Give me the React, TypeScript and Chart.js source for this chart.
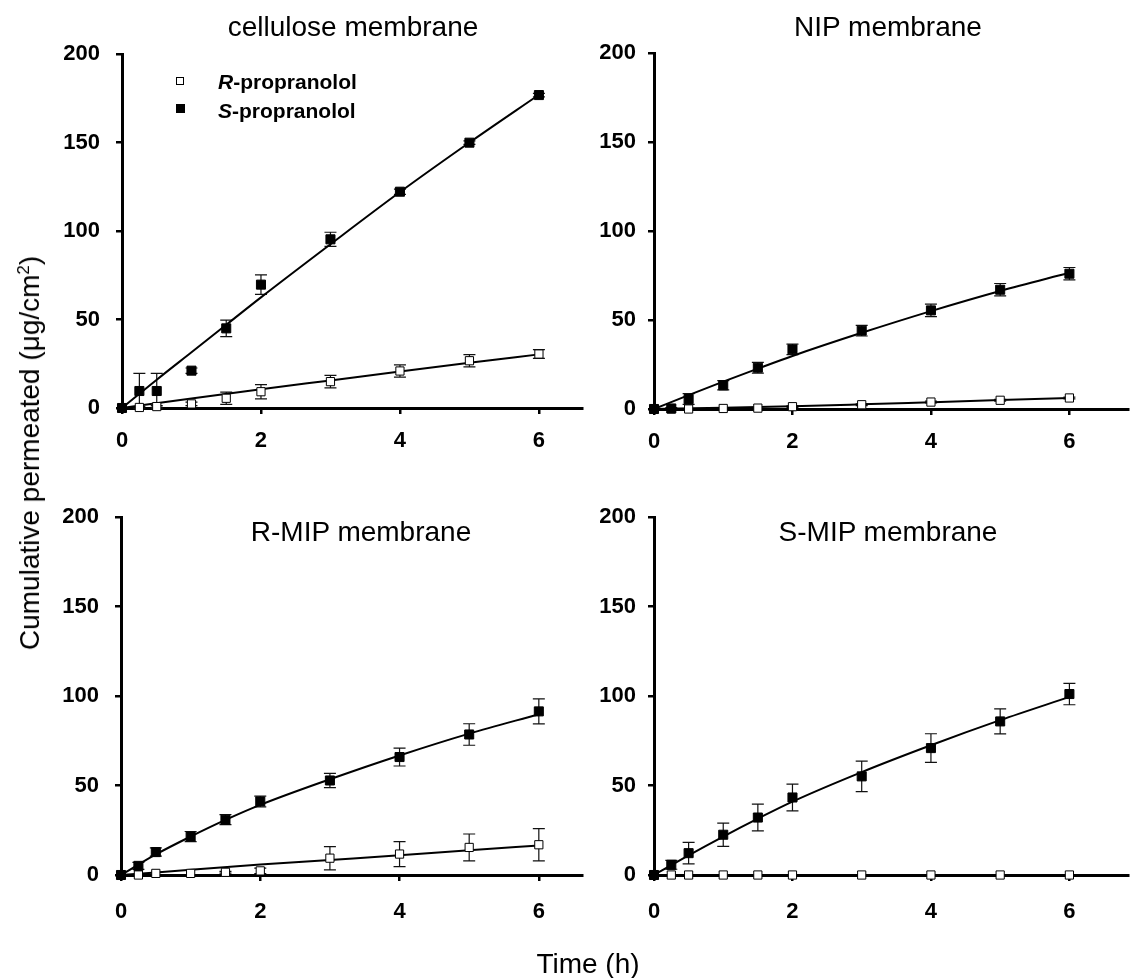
import React, { useEffect, useRef } from 'react';
import { Chart, registerables } from 'chart.js';

Chart.register(...registerables);

const FONT = '"Liberation Sans", Arial, Helvetica, sans-serif';

// ---- shared axes ----
const timePoints = [0, 0.25, 0.5, 1, 1.5, 2, 3, 4, 5, 6];
const xTickValues = [0, 2, 4, 6];
const yTickValues = [0, 50, 100, 150, 200];
const fitTimeS = [0, 0.5, 1, 1.5, 2, 3, 4, 5, 6];
const fitTimeR = [0, 1, 2, 3, 4, 5, 6];

// ---- cellulose membrane ----
const celluloseS = [0, 9.6, 9.6, 21.1, 45, 69.7, 95.3, 122.2, 149.9, 176.8];
const celluloseSErr = [0, 10, 10, 1.5, 4.7, 5.5, 4, 1.5, 1, 1];
const celluloseR = [0, 0.3, 0.8, 2.3, 5.5, 9.2, 14.9, 20.9, 26.7, 30.5];
const celluloseRErr = [0, 0.5, 0.5, 1, 3.5, 4, 3.5, 3.5, 3.5, 2.5];
const celluloseFitS = [0, 16, 31.5, 47, 62.5, 92.5, 122, 150, 177];
const celluloseFitR = [0, 5.4, 10.6, 15.6, 20.6, 25.5, 30.3];

// ---- NIP membrane ----
const nipS = [0, 0.3, 5.6, 13.3, 23.2, 33.5, 44, 55.4, 67, 76];
const nipSErr = [0, 0.5, 3, 2.6, 3, 3, 3, 3.5, 3.5, 3.5];
const nipR = [0, 0, 0, 0.3, 0.5, 1.3, 2.4, 3.9, 4.9, 6.2];
const nipRErr = [0, 0, 0, 0, 0, 0.5, 0.5, 0.5, 0.5, 0.5];
const nipFitS = [0, 7.8, 15.4, 22.7, 29.8, 42.8, 55, 66.3, 76.5];
const nipFitR = [0, 0.7, 1.5, 2.6, 3.8, 5, 6.2];

// ---- R-MIP membrane ----
const rmipS = [0, 5.1, 12.8, 21.5, 30.9, 41.1, 52.8, 65.9, 78.5, 91.4];
const rmipSErr = [0, 2, 2.3, 2.8, 2.8, 3, 4, 5, 6, 7];
const rmipR = [0, 0, 0.9, 0.9, 1.5, 2.3, 9.4, 11.7, 15.4, 16.9];
const rmipRErr = [0, 0, 0, 0, 0.5, 1.5, 6.5, 7, 7.5, 9];
const rmipFitS = [0, 11.5, 21.5, 30.8, 39.2, 53.5, 66.8, 79, 89.8];
const rmipFitR = [0, 2.9, 5.8, 8.4, 11, 13.8, 16.5];

// ---- S-MIP membrane ----
const smipS = [0, 5.7, 12.2, 22.5, 32.1, 43.3, 55.1, 70.9, 85.8, 101.1];
const smipSErr = [0, 2.5, 6, 6.5, 7.5, 7.5, 8.5, 8, 7, 6];
const smipR = [0, 0, 0, 0, 0, 0, 0, 0, 0, 0];
const smipRErr = [0, 0, 0, 0, 0, 0, 0, 0, 0, 0];
const smipFitS = [0, 11, 21.5, 31.5, 41, 57.5, 72.5, 86.5, 99.5];
const smipFitR = [0, 0, 0, 0, 0, 0, 0];

const panelTitles = ['cellulose membrane', 'NIP membrane', 'R-MIP membrane', 'S-MIP membrane'];

type Spec = {
  s: number[]; sErr: number[]; r: number[]; rErr: number[];
  fitS: number[]; fitR: number[];
  canvas: { x: number; y: number; w: number; h: number };
  yW: number; xH: number; padTop: number; padRight: number; xMax: number;
  xPad: number; yPad: number;
};

const panels: Spec[] = [
  { s: celluloseS, sErr: celluloseSErr, r: celluloseR, rErr: celluloseRErr, fitS: celluloseFitS, fitR: celluloseFitR,
    canvas: { x: 0, y: 0, w: 600, h: 465 }, yW: 122, xH: 57, padTop: 54, padRight: 18, xMax: 6.62, xPad: 14, yPad: 16 },
  { s: nipS, sErr: nipSErr, r: nipR, rErr: nipRErr, fitS: nipFitS, fitR: nipFitR,
    canvas: { x: 580, y: 0, w: 556, h: 465 }, yW: 74, xH: 56, padTop: 53, padRight: 0, xMax: 6.855, xPad: 14, yPad: 12 },
  { s: rmipS, sErr: rmipSErr, r: rmipR, rErr: rmipRErr, fitS: rmipFitS, fitR: rmipFitR,
    canvas: { x: 0, y: 465, w: 600, h: 513 }, yW: 121, xH: 103, padTop: 52, padRight: 18, xMax: 6.62, xPad: 18, yPad: 16 },
  { s: smipS, sErr: smipSErr, r: smipR, rErr: smipRErr, fitS: smipFitS, fitR: smipFitR,
    canvas: { x: 580, y: 465, w: 556, h: 513 }, yW: 74, xH: 103, padTop: 52, padRight: 0, xMax: 6.855, xPad: 18, yPad: 12 },
];

const toPts = (xs: number[], ys: number[]) => xs.map((x, i) => ({ x, y: ys[i] }));

const errorBarPlugin = {
  id: 'errorBars',
  beforeDatasetsDraw(chart: any) {
    const ctx = chart.ctx;
    const xs = chart.scales.x;
    const ys = chart.scales.y;
    chart.data.datasets.forEach((ds: any) => {
      if (!ds.errors) return;
      ctx.save();
      ctx.strokeStyle = '#111';
      ctx.lineWidth = 1.2;
      ds.data.forEach((pt: any, i: number) => {
        const e = ds.errors[i];
        if (!e) return;
        const px = xs.getPixelForValue(pt.x);
        const top = ys.getPixelForValue(pt.y + e);
        const bot = ys.getPixelForValue(pt.y - e);
        ctx.beginPath();
        ctx.moveTo(px, top);
        ctx.lineTo(px, bot);
        ctx.moveTo(px - 6, top);
        ctx.lineTo(px + 6, top);
        ctx.moveTo(px - 6, bot);
        ctx.lineTo(px + 6, bot);
        ctx.stroke();
      });
      ctx.restore();
    });
  },
};

function makeConfig(spec: Spec): any {
  const tickFont = { family: FONT, size: 22, weight: 'bold' as const };
  return {
    type: 'line',
    data: {
      datasets: [
        { label: 'S fit', data: toPts(fitTimeS, spec.fitS), borderColor: '#000', borderWidth: 2, pointRadius: 0,
          fill: false, cubicInterpolationMode: 'monotone', order: 2, clip: false },
        { label: 'R fit', data: toPts(fitTimeR, spec.fitR), borderColor: '#000', borderWidth: 2, pointRadius: 0,
          fill: false, cubicInterpolationMode: 'monotone', order: 2, clip: false },
        { label: 'S-propranolol', data: toPts(timePoints, spec.s), errors: spec.sErr, showLine: false,
          pointStyle: 'rect', pointRadius: 6.4, pointBackgroundColor: '#000', pointBorderColor: '#000',
          pointBorderWidth: 1, order: 0, clip: false },
        { label: 'R-propranolol', data: toPts(timePoints, spec.r), errors: spec.rErr, showLine: false,
          pointStyle: 'rect', pointRadius: 5.8, pointBackgroundColor: '#fff', pointBorderColor: '#000',
          pointBorderWidth: 1, order: 0, clip: false },
      ],
    },
    options: {
      animation: false,
      responsive: false,
      devicePixelRatio: 1,
      events: [],
      layout: { padding: { left: 0, top: spec.padTop, right: spec.padRight, bottom: 0 } },
      plugins: { legend: { display: false }, tooltip: { enabled: false }, title: { display: false } },
      scales: {
        x: {
          type: 'linear', min: 0, max: spec.xMax,
          afterBuildTicks: (s: any) => { s.ticks = xTickValues.map((v) => ({ value: v })); },
          afterFit: (s: any) => { s.height = spec.xH; },
          grid: { display: true, drawOnChartArea: false, drawTicks: true, tickLength: 6, color: '#000', tickColor: '#000', tickWidth: 2.5, lineWidth: 2.5 },
          border: { display: true, color: '#000', width: 3 },
          ticks: { color: '#000', font: tickFont, padding: spec.xPad, maxRotation: 0, autoSkip: false, callback: (v: any) => String(v) },
        },
        y: {
          type: 'linear', min: 0, max: 200,
          afterBuildTicks: (s: any) => { s.ticks = yTickValues.map((v) => ({ value: v })); },
          afterFit: (s: any) => { s.width = spec.yW; },
          grid: { display: true, drawOnChartArea: false, drawTicks: true, tickLength: 6, color: '#000', tickColor: '#000', tickWidth: 2.5, lineWidth: 2.5 },
          border: { display: true, color: '#000', width: 3 },
          ticks: { color: '#000', font: tickFont, padding: spec.yPad, autoSkip: false, callback: (v: any) => String(v) },
        },
      },
    },
    plugins: [errorBarPlugin],
  };
}

function Panel({ spec }: { spec: Spec }) {
  const ref = useRef<HTMLCanvasElement>(null);
  useEffect(() => {
    const chart = new Chart(ref.current as HTMLCanvasElement, makeConfig(spec));
    return () => chart.destroy();
  }, [spec]);
  const c = spec.canvas;
  return (
    <canvas ref={ref} width={c.w} height={c.h}
      style={{ position: 'absolute', left: c.x, top: c.y, width: c.w, height: c.h }} />
  );
}

const textBase: React.CSSProperties = {
  position: 'absolute', fontFamily: FONT, color: '#000', whiteSpace: 'nowrap', lineHeight: 1,
};

function Title({ text, cx, top }: { text: string; cx: number; top: number }) {
  return (
    <div style={{ ...textBase, fontSize: 28, lineHeight: '28px', left: cx, top, transform: 'translateX(-50%)' }}>{text}</div>
  );
}

export default function App() {
  return (
    <div style={{ position: 'absolute', left: 0, top: 0, width: 1136, height: 978, overflow: 'hidden', background: '#fff' }}>
      {panels.map((p, i) => <Panel key={i} spec={p} />)}
      <Title text={panelTitles[0]} cx={353} top={13} />
      <Title text={panelTitles[1]} cx={888} top={13} />
      <Title text={panelTitles[2]} cx={361} top={518} />
      <Title text={panelTitles[3]} cx={888} top={518} />
      {/* legend */}
      <div style={{ position: 'absolute', left: 176, top: 77, width: 6, height: 6, border: '1px solid #000', background: '#fff' }} />
      <div style={{ position: 'absolute', left: 175.5, top: 104, width: 9, height: 9, background: '#000' }} />
      <div style={{ ...textBase, fontSize: 21, lineHeight: '21px', fontWeight: 'bold', left: 218, top: 70.5 }}><i>R</i>-propranolol</div>
      <div style={{ ...textBase, fontSize: 21, lineHeight: '21px', fontWeight: 'bold', left: 218, top: 99.5 }}><i>S</i>-propranolol</div>
      {/* axis titles */}
      <div style={{ ...textBase, fontSize: 28, lineHeight: '28px', left: 588, top: 950, transform: 'translateX(-50%)' }}>Time (h)</div>
      <div style={{ ...textBase, fontSize: 28, lineHeight: '28px', left: 30, top: 453, transform: 'translate(-50%, -50%) rotate(-90deg)' }}>
        Cumulative permeated (μg/cm<sup style={{ fontSize: '0.6em', lineHeight: 0 }}>2</sup>)
      </div>
    </div>
  );
}
